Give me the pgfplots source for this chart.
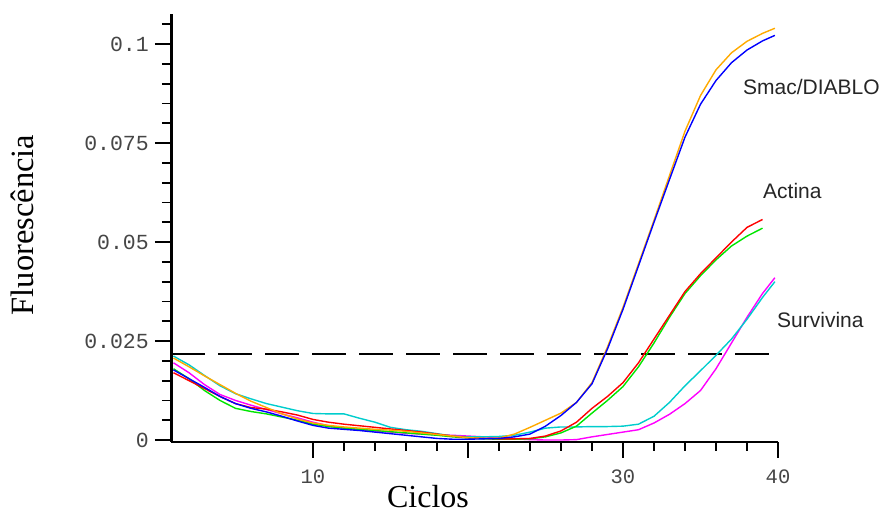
\documentclass[border=0pt]{standalone}
\usepackage{fontspec}
\setmainfont{Liberation Serif}
\setsansfont{Liberation Sans}
\setmonofont{Liberation Mono}
\usepackage{pgfplots}
\pgfplotsset{compat=1.18}
\definecolor{corange}{RGB}{255,170,0}
\definecolor{cblue}{RGB}{0,0,255}
\definecolor{cred}{RGB}{255,0,0}
\definecolor{cgreen}{RGB}{0,230,0}
\definecolor{cmag}{RGB}{255,0,255}
\definecolor{ccyan}{RGB}{0,205,205}
\definecolor{ticktext}{RGB}{70,70,70}
\begin{document}
\begin{tikzpicture}
\useasboundingbox (0,0) rectangle (881pt,516pt);
\begin{axis}[
  at={(171pt,74pt)}, anchor=south west,
  scale only axis, width=607pt, height=428pt,
  xmin=0.84, xmax=40, ymin=-0.0005, ymax=0.1076,
  axis lines=left,
  x axis line style={-, line width=2pt},
  y axis line style={-, line width=3pt},
  tick align=outside,
  tick style={black, line width=1.8pt},
  major tick length=16pt, minor tick length=9pt,
  xtick={10,20,30,40}, xticklabels={10,\phantom{20},30,40},
  minor x tick num=4,
  ytick={0,0.025,0.05,0.075,0.1}, yticklabels={0,0.025,0.05,0.075,0.1},
  minor ytick={0.005,0.01,0.015,0.02,0.03,0.035,0.04,0.045,0.055,0.06,0.065,0.07,0.08,0.085,0.09,0.095,0.105},
  xticklabel style={font=\ttfamily\fontsize{20.5}{22}\selectfont, text=ticktext, anchor=base, inner sep=0pt, yshift=-26pt},
  yticklabel style={font=\ttfamily\fontsize{21.5}{22}\selectfont, text=ticktext, anchor=east, inner sep=0pt, xshift=-6pt},
  clip=false,
]
% threshold
\addplot[black, line width=2.5pt, dash pattern=on 34pt off 13pt] coordinates {(0.84,0.0217) (40,0.0217)};
% Survivina
\addplot[cmag, line width=1.4pt] coordinates {
(1,0.0195)(2,0.0170)(3,0.0140)(4,0.0115)(5,0.0100)(6,0.0088)(7,0.0077)(8,0.0066)(9,0.0056)(10,0.0045)
(11,0.0036)(12,0.0030)(13,0.0026)(14,0.0023)(15,0.0020)(16,0.0017)(17,0.0015)(18,0.0013)(19,0.0012)(20,0.0010)
(21,0.0008)(22,0.0006)(23,0.0003)(24,0.0001)(25,0.0000)(26,0.0000)(27,0.0001)(28,0.0008)(29,0.0014)(30,0.0020)
(31,0.0026)(32,0.0043)(33,0.0065)(34,0.0092)(35,0.0125)(36,0.0180)(37,0.0245)(38,0.0310)(39,0.0370)(39.8,0.0410)};
\addplot[ccyan, line width=1.4pt] coordinates {
(1,0.0212)(2,0.0190)(3,0.0163)(4,0.0137)(5,0.0117)(6,0.0104)(7,0.0092)(8,0.0083)(9,0.0074)(10,0.0067)
(11,0.0066)(12,0.0066)(13,0.0055)(14,0.0045)(15,0.0032)(16,0.0026)(17,0.0022)(18,0.0016)(19,0.0010)(20,0.0008)
(21,0.0008)(22,0.0009)(23,0.0012)(24,0.0020)(25,0.0030)(26,0.0033)(27,0.0033)(28,0.0034)(29,0.0034)(30,0.0035)
(31,0.0040)(32,0.0060)(33,0.0095)(34,0.0137)(35,0.0175)(36,0.0214)(37,0.0255)(38,0.0305)(39,0.0360)(39.8,0.0400)};
% Actina
\addplot[cgreen, line width=1.4pt] coordinates {
(1,0.0180)(2,0.0155)(3,0.0125)(4,0.0100)(5,0.0080)(6,0.0072)(7,0.0066)(8,0.0058)(9,0.0050)(10,0.0040)
(11,0.0034)(12,0.0030)(13,0.0027)(14,0.0024)(15,0.0021)(16,0.0018)(17,0.0015)(18,0.0012)(19,0.0008)(20,0.0005)
(21,0.0003)(22,0.0002)(23,0.0002)(24,0.0003)(25,0.0008)(26,0.0018)(27,0.0035)(28,0.0068)(29,0.0100)(30,0.0135)
(31,0.0185)(32,0.0245)(33,0.0310)(34,0.0370)(35,0.0415)(36,0.0455)(37,0.0490)(38,0.0515)(39,0.0535)};
\addplot[cred, line width=1.4pt] coordinates {
(1,0.0170)(2,0.0150)(3,0.0130)(4,0.0110)(5,0.0092)(6,0.0082)(7,0.0078)(8,0.0071)(9,0.0063)(10,0.0052)
(11,0.0045)(12,0.0040)(13,0.0036)(14,0.0032)(15,0.0028)(16,0.0024)(17,0.0020)(18,0.0015)(19,0.0010)(20,0.0006)
(21,0.0004)(22,0.0003)(23,0.0003)(24,0.0004)(25,0.0010)(26,0.0023)(27,0.0045)(28,0.0080)(29,0.0110)(30,0.0145)
(31,0.0195)(32,0.0255)(33,0.0315)(34,0.0375)(35,0.0420)(36,0.0460)(37,0.0500)(38,0.0537)(39,0.0557)};
% Smac/DIABLO
\addplot[corange, line width=1.4pt] coordinates {
(1,0.0207)(2,0.0185)(3,0.0162)(4,0.0140)(5,0.0118)(6,0.0098)(7,0.0082)(8,0.0066)(9,0.0053)(10,0.0043)
(11,0.0037)(12,0.0033)(13,0.0030)(14,0.0027)(15,0.0025)(16,0.0022)(17,0.0018)(18,0.0014)(19,0.0010)(20,0.0006)
(21,0.0004)(22,0.0005)(23,0.0015)(24,0.0032)(25,0.0050)(26,0.0068)(27,0.0095)(28,0.0145)(29,0.0235)(30,0.0335)
(31,0.0445)(32,0.0555)(33,0.0668)(34,0.0780)(35,0.0870)(36,0.0935)(37,0.0978)(38,0.1007)(39,0.1027)(39.8,0.1040)};
\addplot[cblue, line width=1.4pt] coordinates {
(1,0.0177)(2,0.0155)(3,0.0133)(4,0.0110)(5,0.0092)(6,0.0080)(7,0.0071)(8,0.0060)(9,0.0048)(10,0.0037)
(11,0.0030)(12,0.0027)(13,0.0024)(14,0.0020)(15,0.0016)(16,0.0012)(17,0.0008)(18,0.0004)(19,0.0002)(20,0.0002)
(21,0.0003)(22,0.0004)(23,0.0008)(24,0.0015)(25,0.0035)(26,0.0062)(27,0.0095)(28,0.0142)(29,0.0230)(30,0.0330)
(31,0.0440)(32,0.0550)(33,0.0658)(34,0.0765)(35,0.0848)(36,0.0908)(37,0.0953)(38,0.0985)(39,0.1008)(39.8,0.1022)};
\end{axis}
\node[anchor=base, inner sep=0pt, font=\fontsize{32}{36}\selectfont] at (428pt,8pt) {Ciclos};
\node[anchor=base, rotate=90, inner sep=0pt, font=\fontsize{32.5}{36}\selectfont] at (34pt,291pt) {Fluorescência};
\node[anchor=base west, inner sep=0pt, text=black!85, font=\sffamily\fontsize{21}{24}\selectfont] at (743pt,421pt) {Smac/DIABLO};
\node[anchor=base west, inner sep=0pt, text=black!85, font=\sffamily\fontsize{21}{24}\selectfont] at (763pt,317pt) {Actina};
\node[anchor=base west, inner sep=0pt, text=black!85, font=\sffamily\fontsize{21}{24}\selectfont] at (777pt,188pt) {Survivina};
\end{tikzpicture}
\end{document}
